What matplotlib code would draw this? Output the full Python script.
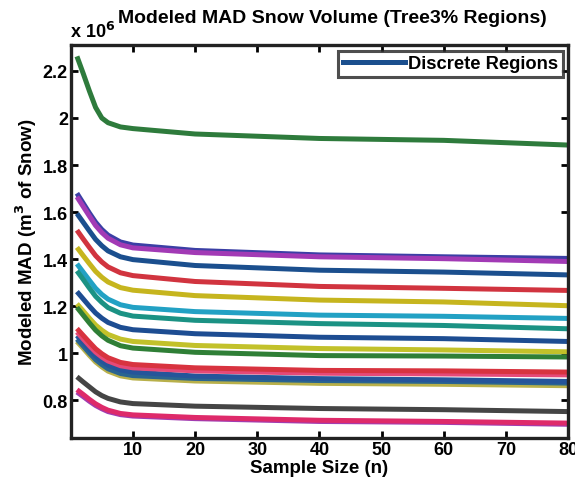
import matplotlib
matplotlib.use("Agg")
import matplotlib.pyplot as plt

plt.rcParams['font.family'] = ['Liberation Sans', 'DejaVu Sans']
plt.rcParams['font.weight'] = 'bold'

# Sample sizes where values were read
n = [1, 2, 3, 4, 5, 6, 8, 10, 20, 40, 60, 80]

# Modeled MAD (x 10^6 m^3), one series per region
series = [
    ("#2e7b3c", [2.262, 2.19, 2.115, 2.045, 2.0, 1.98, 1.962, 1.955, 1.932, 1.913, 1.905, 1.885]),
    ("#3b3fa5", [1.68, 1.638, 1.596, 1.557, 1.526, 1.502, 1.473, 1.46, 1.437, 1.418, 1.41, 1.403]),
    ("#a23ab5", [1.665, 1.624, 1.583, 1.543, 1.513, 1.489, 1.461, 1.448, 1.428, 1.41, 1.402, 1.39]),
    ("#1b4f8e", [1.594, 1.557, 1.52, 1.484, 1.457, 1.435, 1.41, 1.398, 1.373, 1.353, 1.345, 1.333]),
    ("#d1343f", [1.523, 1.486, 1.45, 1.415, 1.388, 1.367, 1.342, 1.33, 1.305, 1.284, 1.276, 1.267]),
    ("#c6b51e", [1.45, 1.415, 1.381, 1.348, 1.323, 1.303, 1.279, 1.268, 1.245, 1.226, 1.218, 1.202]),
    ("#22a1c4", [1.38, 1.345, 1.31, 1.276, 1.25, 1.23, 1.206, 1.195, 1.177, 1.162, 1.157, 1.148]),
    ("#1b9284", [1.35, 1.314, 1.277, 1.242, 1.216, 1.194, 1.17, 1.158, 1.14, 1.126, 1.118, 1.104]),
    ("#1d4d92", [1.262, 1.231, 1.2, 1.171, 1.149, 1.131, 1.11, 1.1, 1.083, 1.068, 1.062, 1.05]),
    ("#c2c12a", [1.21, 1.18, 1.149, 1.12, 1.098, 1.08, 1.06, 1.05, 1.033, 1.02, 1.014, 1.006]),
    ("#2f7f36", [1.195, 1.162, 1.129, 1.098, 1.074, 1.055, 1.032, 1.022, 1.004, 0.99, 0.988, 0.984]),
    ("#b8b04a", [1.05, 1.021, 0.991, 0.963, 0.942, 0.924, 0.904, 0.895, 0.882, 0.872, 0.868, 0.862]),
    ("#2a6590", [1.06, 1.031, 1.001, 0.973, 0.952, 0.934, 0.914, 0.905, 0.893, 0.884, 0.88, 0.873]),
    ("#25559a", [1.075, 1.046, 1.016, 0.988, 0.967, 0.949, 0.929, 0.92, 0.903, 0.892, 0.887, 0.88]),
    ("#e54a78", [1.09, 1.061, 1.032, 1.005, 0.984, 0.967, 0.947, 0.938, 0.925, 0.915, 0.912, 0.908]),
    ("#d8333f", [1.105, 1.076, 1.047, 1.019, 0.998, 0.981, 0.961, 0.952, 0.938, 0.927, 0.925, 0.92]),
    ("#454545", [0.90, 0.878, 0.857, 0.836, 0.82, 0.808, 0.793, 0.786, 0.775, 0.765, 0.76, 0.752]),
    ("#a23cb0", [0.835, 0.816, 0.796, 0.778, 0.764, 0.752, 0.739, 0.733, 0.722, 0.71, 0.706, 0.698]),
    ("#de2a6a", [0.845, 0.825, 0.804, 0.785, 0.77, 0.758, 0.744, 0.738, 0.727, 0.715, 0.71, 0.703]),
]

legend_label = "Discrete Regions"
legend_color = "#1b4f8e"
title = "Modeled MAD Snow Volume (Tree3% Regions)"
xlabel = "Sample Size (n)"
ylabel = "Modeled MAD (m$^3$ of Snow)"
xticks = [10, 20, 30, 40, 50, 60, 70, 80]
yticks = [0.8, 1.0, 1.2, 1.4, 1.6, 1.8, 2.0, 2.2]
yticklabels = ["0.8", "1", "1.2", "1.4", "1.6", "1.8", "2", "2.2"]

fig = plt.figure(figsize=(5.75, 4.85), dpi=100)
ax = fig.add_axes([0.123, 0.095, 0.865, 0.81])

for color, vals in series:
    ax.plot(n, vals, color=color, lw=3.6, solid_capstyle='butt')

ax.plot([], [], color=legend_color, lw=3.6, label=legend_label)
leg = ax.legend(loc='upper right', frameon=True, fancybox=False, handlelength=3.4,
                borderpad=0.25, handletextpad=0.15, borderaxespad=0.3,
                prop={'weight': 'bold', 'size': 13.2})
leg.get_frame().set_edgecolor('#222222')
leg.get_frame().set_linewidth(2.2)

ax.set_xlim(0, 80)
ax.set_ylim(0.64, 2.31)
ax.set_xticks(xticks)
ax.set_yticks(yticks)
ax.set_yticklabels(yticklabels)
ax.tick_params(direction='in', length=5, width=2, top=True, right=True,
               labelsize=13, pad=2)
for lab in ax.get_xticklabels() + ax.get_yticklabels():
    lab.set_fontweight('bold')
for sp in ax.spines.values():
    sp.set_linewidth(2.4)
    sp.set_color('#222222')

ax.set_xlabel(xlabel, fontsize=13.5, fontweight='bold', labelpad=1)
ax.set_ylabel(ylabel, fontsize=13.5, fontweight='bold', labelpad=3)
fig.text(0.578, 0.962, title, fontsize=14, fontweight='bold', ha='center', va='center')
fig.text(0.122, 0.935, r"x 10$^6$", fontsize=13, fontweight='bold', ha='left', va='center')

fig.savefig("out.png", dpi=100)
